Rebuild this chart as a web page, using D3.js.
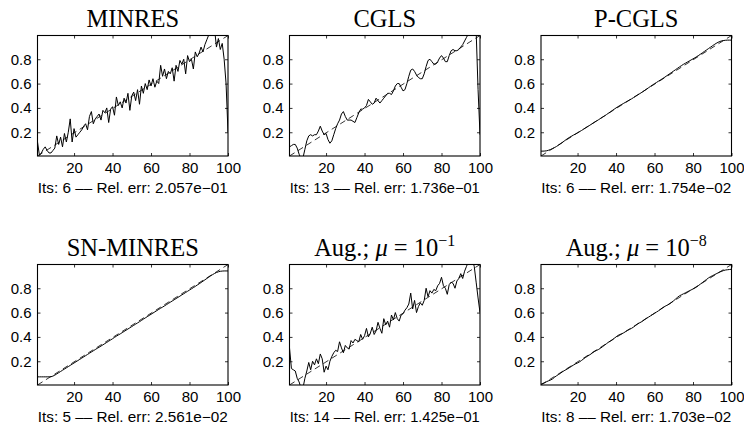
<!DOCTYPE html>
<html><head><meta charset="utf-8">
<script src="https://cdn.jsdelivr.net/npm/d3@7"></script>
<style>body{margin:0;background:#fff}</style></head>
<body>
<svg id="chart" width="744" height="430"></svg>
<script>
// ---------- data ----------
const methodTitles = ["MINRES", "CGLS", "P-CGLS", "SN-MINRES", "Aug.; μ = 10^−1", "Aug.; μ = 10^−8"];
const iterations = [6, 13, 6, 5, 14, 8];
const relErrors = ["2.057e−01", "1.736e−01", "1.754e−02", "2.561e−02", "1.425e−01", "1.703e−02"];
const xTicks = [20, 40, 60, 80, 100];
const yTicks = [0.2, 0.4, 0.6, 0.8];
const xDomain = [1, 100];
const yDomain = [0.005, 0.995];
const trueIdx = [1, 100];
const trueVals = [0.005, 0.995];

const minres = [0.12,0.01,0.03,0.06,0.08,0.05,0.03,0.03,0.05,0.07,
0.17,0.10,0.16,0.08,0.19,0.12,0.20,0.31,0.12,0.23,
0.16,0.18,0.20,0.22,0.25,0.27,0.22,0.33,0.37,0.27,
0.31,0.33,0.35,0.30,0.38,0.36,0.40,0.28,0.39,0.41,
0.34,0.49,0.42,0.45,0.40,0.48,0.44,0.52,0.38,0.50,
0.53,0.46,0.55,0.43,0.58,0.52,0.60,0.55,0.63,0.58,
0.64,0.57,0.62,0.60,0.75,0.66,0.72,0.64,0.70,0.68,
0.73,0.62,0.75,0.70,0.79,0.76,0.80,0.68,0.83,0.78,
0.80,0.72,0.86,0.82,0.85,0.90,0.86,0.92,0.96,1.00,
1.04,1.02,1.05,0.90,0.97,0.88,0.93,0.80,0.60,0.20];

const cgls = [0.08,0.09,0.10,0.10,0.07,0.02,-0.02,-0.01,0.06,0.13,
0.17,0.18,0.17,0.18,0.18,0.21,0.25,0.21,0.18,0.19,
0.14,0.11,0.13,0.18,0.23,0.27,0.30,0.35,0.37,0.33,
0.30,0.30,0.30,0.29,0.28,0.32,0.36,0.39,0.39,0.40,
0.42,0.47,0.45,0.43,0.44,0.48,0.46,0.44,0.46,0.48,
0.50,0.52,0.52,0.51,0.54,0.58,0.60,0.60,0.57,0.54,
0.55,0.60,0.66,0.71,0.72,0.70,0.67,0.65,0.64,0.64,
0.68,0.74,0.79,0.80,0.78,0.76,0.76,0.78,0.81,0.83,
0.81,0.78,0.78,0.83,0.87,0.88,0.87,0.87,0.88,0.90,
0.92,0.95,0.98,1.01,1.04,1.06,1.06,1.03,0.55,0.18];

const pcgls = [0.045,0.045,0.046,0.048,0.053,0.059,0.066,0.074,0.083,0.093,
0.104,0.115,0.127,0.139,0.150,0.160,0.169,0.178,0.187,0.196,
0.205,0.214,0.224,0.234,0.244,0.254,0.264,0.274,0.284,0.294,
0.304,0.314,0.324,0.334,0.345,0.356,0.367,0.378,0.389,0.400,
0.410,0.420,0.429,0.438,0.447,0.456,0.465,0.474,0.484,0.494,
0.504,0.514,0.524,0.534,0.545,0.556,0.567,0.578,0.589,0.599,
0.609,0.619,0.629,0.639,0.649,0.660,0.671,0.682,0.693,0.704,
0.715,0.726,0.737,0.748,0.758,0.767,0.776,0.785,0.794,0.803,
0.812,0.822,0.832,0.843,0.854,0.865,0.876,0.887,0.898,0.909,
0.920,0.930,0.939,0.946,0.951,0.954,0.956,0.957,0.957,0.957];

const snminres = [0.072,0.072,0.072,0.072,0.072,0.072,0.072,0.073,0.078,0.086,
0.096,0.106,0.116,0.126,0.136,0.146,0.156,0.166,0.176,0.186,
0.196,0.206,0.216,0.226,0.236,0.246,0.256,0.266,0.276,0.286,
0.296,0.306,0.315,0.325,0.335,0.345,0.355,0.365,0.375,0.385,
0.396,0.406,0.416,0.425,0.435,0.445,0.455,0.465,0.475,0.485,
0.495,0.505,0.515,0.525,0.535,0.546,0.556,0.566,0.576,0.586,
0.596,0.606,0.616,0.626,0.636,0.645,0.655,0.665,0.675,0.685,
0.695,0.705,0.715,0.725,0.735,0.745,0.755,0.765,0.775,0.785,
0.795,0.805,0.815,0.826,0.836,0.847,0.858,0.869,0.880,0.891,
0.902,0.912,0.921,0.929,0.935,0.939,0.941,0.942,0.942,0.942];

const augMu1 = [0.31,0.14,0.13,0.12,0.06,0.03,-0.02,-0.02,0.06,0.12,
0.19,0.13,0.20,0.17,0.22,0.18,0.26,0.22,0.11,0.16,
0.13,0.20,0.24,0.27,0.29,0.28,0.36,0.31,0.27,0.33,
0.31,0.30,0.37,0.35,0.38,0.37,0.36,0.42,0.38,0.41,
0.47,0.40,0.43,0.48,0.42,0.45,0.52,0.47,0.43,0.55,
0.50,0.53,0.48,0.58,0.54,0.60,0.55,0.53,0.58,0.59,
0.62,0.64,0.67,0.76,0.63,0.70,0.60,0.65,0.68,0.66,
0.70,0.80,0.73,0.78,0.76,0.79,0.78,0.82,0.84,0.89,
0.82,0.80,0.75,0.83,0.85,0.84,0.80,0.86,0.88,0.92,
0.88,0.94,0.98,1.02,1.05,1.03,0.98,0.85,0.72,0.60];

const augMu8 = [0.012,0.018,0.025,0.033,0.040,0.046,0.055,0.068,0.080,0.090,
0.100,0.112,0.122,0.131,0.140,0.150,0.160,0.170,0.179,0.186,
0.195,0.206,0.218,0.230,0.240,0.250,0.260,0.272,0.282,0.290,
0.298,0.308,0.320,0.332,0.344,0.356,0.366,0.376,0.388,0.400,
0.412,0.420,0.426,0.434,0.444,0.454,0.462,0.470,0.480,0.492,
0.504,0.514,0.522,0.532,0.544,0.554,0.564,0.574,0.584,0.594,
0.604,0.614,0.626,0.638,0.648,0.656,0.664,0.674,0.686,0.698,
0.712,0.726,0.738,0.746,0.754,0.762,0.770,0.778,0.786,0.794,
0.802,0.812,0.824,0.836,0.848,0.860,0.872,0.884,0.894,0.902,
0.910,0.918,0.926,0.934,0.940,0.946,0.950,0.952,0.954,0.956];

const solutions = [minres, cgls, pcgls, snminres, augMu1, augMu8];

// ---------- layout ----------
const svg = d3.select("#chart");
const colLeft = [37.5, 289.5, 541];
const rowTop = [35.5, 264.5];
const pw = 190.5, ph = 120.5;
const serif = "'Liberation Serif','Times New Roman',serif";
const sans = "'Liberation Sans',Arial,Helvetica,sans-serif";

solutions.forEach((vals, k) => {
  const col = k % 3, row = Math.floor(k / 3);
  const g = svg.append("g").attr("transform", `translate(${colLeft[col]},${rowTop[row]})`);
  const x = d3.scaleLinear().domain(xDomain).range([0, pw]);
  const y = d3.scaleLinear().domain(yDomain).range([ph, 0]);

  const cid = "clip" + k;
  g.append("clipPath").attr("id", cid).append("rect").attr("width", pw).attr("height", ph);

  const idx = vals.map((v, i) => i + 1);
  const line = d3.line().x(d => x(d[0])).y(d => y(d[1]));

  g.append("path").datum(idx.map((t, i) => [t, vals[i]]))
    .attr("d", line).attr("fill", "none").attr("stroke", "#000")
    .attr("stroke-width", 1).attr("clip-path", `url(#${cid})`);

  g.append("path").datum(trueIdx.map((t, i) => [t, trueVals[i]]))
    .attr("d", line).attr("fill", "none").attr("stroke", "#000")
    .attr("stroke-width", 0.8).attr("stroke-dasharray", "6,4").attr("clip-path", `url(#${cid})`);

  // axes with inward ticks
  const ax = d3.axisBottom(x).tickValues(xTicks).tickSize(-3).tickPadding(6).tickFormat(d3.format("d"));
  const axTop = d3.axisTop(x).tickValues(xTicks).tickSize(-3).tickFormat("");
  const ay = d3.axisLeft(y).tickValues(yTicks).tickSize(-3).tickPadding(6).tickFormat(d3.format(".1f"));
  const ayR = d3.axisRight(y).tickValues(yTicks).tickSize(-3).tickFormat("");

  const styleAxis = sel => {
    sel.select(".domain").remove();
    sel.selectAll("line").attr("stroke", "#000").attr("stroke-width", 0.8);
    sel.selectAll("text").attr("fill", "#000").style("font-family", sans).style("font-size", "15px");
  };
  g.append("g").attr("transform", `translate(0,${ph})`).call(ax).call(styleAxis);
  g.append("g").call(axTop).call(styleAxis);
  g.append("g").call(ay).call(styleAxis);
  g.append("g").attr("transform", `translate(${pw},0)`).call(ayR).call(styleAxis);

  g.append("rect").attr("width", pw).attr("height", ph)
    .attr("fill", "none").attr("stroke", "#000").attr("stroke-width", 1.1);

  // title
  const t = g.append("text").attr("x", pw / 2).attr("y", -9)
    .attr("text-anchor", "middle").style("font-family", serif).style("font-size", "24.5px").attr("fill", "#000");
  const title = methodTitles[k];
  if (title.includes("μ")) {
    const [pre, rest] = title.split("μ");
    const [base, sup] = rest.split("^");
    t.append("tspan").text(pre);
    t.append("tspan").style("font-style", "italic").text("μ");
    t.append("tspan").text(base);
    t.append("tspan").attr("dy", -10).style("font-size", "16px").text(sup);
  } else {
    t.text(title);
  }

  // subtitle
  g.append("text").attr("x", pw / 2).attr("y", ph + 37)
    .attr("text-anchor", "middle").style("font-family", sans).style("font-size", "14px")
    .attr("textLength", 190).attr("lengthAdjust", "spacingAndGlyphs")
    .attr("fill", "#000")
    .text(`Its: ${iterations[k]} –– Rel. err: ${relErrors[k]}`);
});
</script>
</body></html>
